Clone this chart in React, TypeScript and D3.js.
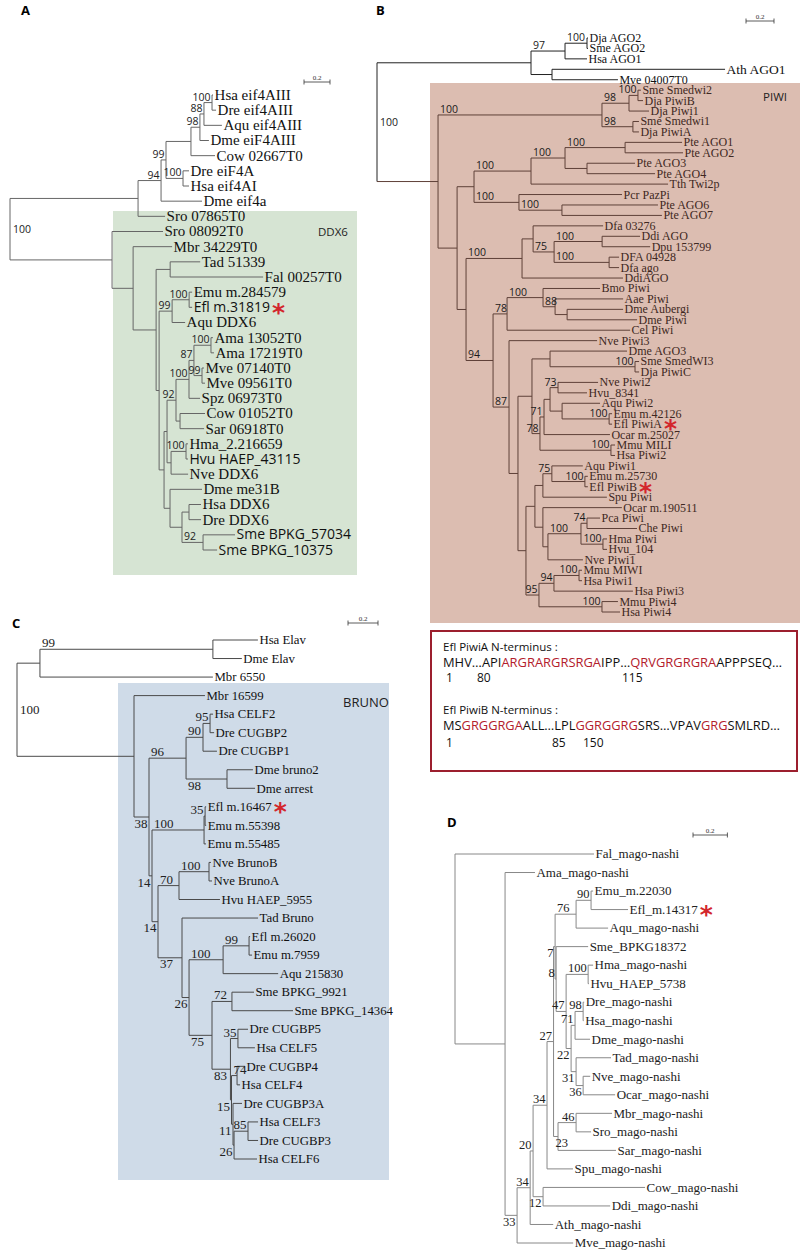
import React from 'react';
import * as d3 from 'd3';

// ====================== DATA ======================
// Trees in Newick: branch lengths in substitutions/site, internal labels = bootstrap support.
// Label flags: '<' label sits at the start of the branch, '_' label sits below the branch.

// ---- Panel A : DDX6 ----
const A_eif4AIII = '(((Hsa eif4AIII:0.008,Dre eif4AIII:0.031)100:0.062,Aqu eif4AIII:0.138)88:0.031,Dme eiF4AIII:0.069)98:0.069';
const A_eif4A = `((((${A_eif4AIII},Cow 02667T0:0.185):0.192,(Dre eiF4A:0.046,Hsa eif4AI:0.046)100:0.131)99:0.038,Dme eif4a:0.315)94:0.177,Sro 07865T0:0.208):0.985`;
const A_ama = '((((Ama 13052T0:0.015,Ama 17219T0:0.023)100:0.131,(Mve 07140T0:0.015,Mve 09561T0:0.023)99:0.062)87:0.038,Spz 06973T0:0.085)100:0.100,(Cow 01052T0:0.192,Sar 06918T0:0.185):0.031)92:0.069';
const A_cnid = '((Hma_2.216659:0.015,Hvu HAEP_43115:0.015)100:0.115,Nve DDX6:0.131):0.031';
const A_bilat = '(Dme me31B:0.246,((Hsa DDX6:0.092,Dre DDX6:0.092):0.054,(Sme BPKG_57034:0.246,Sme BPKG_10375:0.108)<92:0.162):0.092):0.046';
const A_ddx6 = `(Sro 08092T0:0.392,(Mbr 34229T0:0.300,((Tad 51339:0.231,Fal 00257T0:0.715):0.108,(((Emu m.284579:0.023,Efl m.31819:0.023)100:0.131,Aqu DDX6:0.100)99:0.100,((${A_ama},${A_cnid}):0.023,${A_bilat}):0.038):0.023):0.177):0.162):0.785`;
const treeA = `(${A_eif4A},${A_ddx6})100;`;

// ---- Panel B : PIWI ----
const B_ago = '(((Dja AGO2:0.007,Sme AGO2:0.007)<100:0.157,Hsa AGO1:0.157)<97:0.243,(Ath AGO1:1.236,Mve 04007T0:0.471):0.150):1.100';
const B_plan = '(((Sme Smedwi2:0.021,Dja PiwiB:0.036)100:0.064,Dja Piwi1:0.143)<98:0.193,(Sme Smedwi1:0.043,Dja PiwiA:0.043)<98:0.221)<100:1.171';
const B_cil = '((((Pte AGO1:0.407,Pte AGO2:0.414)<100:0.429,(Pte AGO3:0.343,Pte AGO4:0.486):0.157)<100:0.243,Tth Twi2p:0.979)<100:0.407,(Pcr PazPi:0.736,(Pte AGO6:0.686,Pte AGO7:0.714)<100:0.307)<100:0.321):0.121';
const B_dicty = '((Dfa 03276:0.500,((Ddi AGO:0.271,Dpu 153799:0.343)<100:0.343,(DFA 04928:0.071,Dfa ago:0.071)<100:0.393)<75:0.150):0.079,DdiAGO:0.721)<100:0.400';
const B_insect = '((Bmo Piwi:0.407,(Aae Piwi:0.486,(Dme Aubergi:0.400,Dme Piwi:0.500):0.086)<88:0.086)<100:0.257,Cel Piwi:0.879)<78:0.100';
const B_piwi2 = '((Dme AGO3:0.550,(Sme SmedWI3:0.029,Dja PiwiC:0.029)100:0.607):0.129,((((Nve Piwi2:0.286,Hvu_8341:0.207)73:0.057,(Aqu Piwi2:0.271,(Emu m.42126:0.021,Efl PiwiA:0.021)100:0.336):0.086):0.043,Ocar m.25027:0.471)71:0.029,(Mmu MILI:0.029,Hsa Piwi2:0.029)100:0.507)78:0.057):0.100';
const B_piwi1 = '((((Aqu Piwi1:0.221,(Emu m.25730:0.021,Efl PiwiB:0.021)100:0.236)75:0.064,Spu Piwi:0.457):0.057,(Ocar m.190511:0.564,(((Pca Piwi:0.093,Che Piwi:0.357)74:0.043,(Hma Piwi:0.029,Hvu_104:0.029)100:0.157)<100:0.236,Nve Piwi1:0.250):0.036):0.057):0.064,(((Mmu MIWI:0.021,Hsa Piwi1:0.021)100:0.179,Hsa Piwi3:0.564)94:0.107,(Mmu Piwi4:0.114,Hsa Piwi4:0.129)100:0.450)95:0.093):0.057';
const B_p5 = `(${B_piwi2},${B_piwi1}):0.064`;
const B_p4 = `(Nve Piwi3:0.629,${B_p5})<87:0.114`;
const B_p3 = `(${B_insect},${B_p4})<94:0.193`;
const B_p2 = `(${B_dicty},${B_p3}):0.064`;
const B_p1 = `(${B_cil},${B_p2}):0.136`;
const B_p0 = `(${B_plan},${B_p1}):0.436`;
const treeB = `(${B_ago},${B_p0})100;`;

// ---- Panel C : BRUNO ----
const C_elav = '((Hsa Elav:0.300,Dme Elav:0.193)<99:1.153,Mbr 6550:1.153):0.153';
const C_celf12 = '(((Hsa CELF2:0.020,Dre CUGBP2:0.027)95:0.047,Dre CUGBP1:0.093)<90:0.113,(Dme bruno2:0.173,Dme arrest:0.187)<_98:0.273)<96:0.247';
const C_emu = '((Efl m.16467:0.007,Emu m.55398:0.007)35:0.007,Emu m.55485:0.013)<100:0.347';
const C_nve = '((Nve BrunoB:0.013,Nve BrunoA:0.020)<100:0.200,Hvu HAEP_5955:0.273)<70:0.140';
const C_aqu = '((Efl m.26020:0.007,Emu m.7959:0.020)<99:0.173,Aqu 215830:0.367)<100:0.227';
const C_sme = '(Sme BPKG_9921:0.147,Sme BPKG_14364:0.407)<72:0.133';
const C_celf36 = '((Dre CUGBP5:0.067,Hsa CELF5:0.113)35:0.050,((Dre CUGBP4:0.053,Hsa CELF4:0.020)<74:0.037,(Dre CUGBP3A:0.060,((Hsa CELF3:0.067,Dre CUGBP3:0.067)85:0.093,Hsa CELF6:0.153)_26:0.007)_11:0.010)_15:0.007)<_83:0.123';
const C_b6 = `(${C_sme},${C_celf36})<_75:0.153`;
const C_b5 = `(${C_aqu},${C_b6})_26:0.047`;
const C_b4 = `(Tad Bruno:0.507,${C_b5})<_37:0.160`;
const C_b3 = `(${C_nve},${C_b4})_14:0.040`;
const C_b2 = `(${C_emu},${C_b3})_14:0.020`;
const C_b1 = `(${C_celf12},${C_b2})_38:0.100`;
const C_b0 = `(Mbr 16599:0.473,${C_b1}):0.780`;
const treeC = `(${C_elav},${C_b0})100;`;

// ---- Panel D : mago-nashi ----
const D_g76 = '((Emu_m.22030:0.012,Efl_m.14317:0.215)90:0.087,Aqu_mago-nashi:0.186)<76:0.122';
const D_n22 = '(((Dre_mago-nashi:0.006,Hsa_mago-nashi:0.003)98:0.047,Dme_mago-nashi:0.087)71:0.023,(Tad_mago-nashi:0.203,(Nve_mago-nashi:0.041,Ocar_mago-nashi:0.186)_36:0.041)_31:0.029)_22:0.029';
const D_n47 = `((Hma_mago-nashi:0.029,Hvu_HAEP_5738:0.005)100:0.128,${D_n22})47:0.058`;
const D_n78 = `(Sme_BPKG18372:0.186,${D_n47})8:0.006`;
const D_n23 = '((Mbr_mago-nashi:0.209,Sro_mago-nashi:0.087)46:0.105,Sar_mago-nashi:0.337)<_23:0.026';
const D_r6 = `((${D_g76},${D_n78})_7:0.009,${D_n23})27:0.038`;
const D_r5 = `(${D_r6},Spu_mago-nashi:0.151)34:0.081`;
const D_r4 = `(${D_r5},(Cow_mago-nashi:0.593,Ddi_mago-nashi:0.390)_12:0.058)20:0.017`;
const D_r3 = `(${D_r4},Ath_mago-nashi:0.134)34:0.076`;
const D_r2 = `(${D_r3},Mve_mago-nashi:0.326)_33:0.070`;
const treeD = `(Fal_mago-nashi:0.808,(Ama_mago-nashi:0.174,${D_r2}):0.291);`;

// Genes of Ephydatia fluviatilis highlighted with a red asterisk
const starred = ['Efl m.31819', 'Efl PiwiA', 'Efl PiwiB', 'Efl m.16467', 'Efl_m.14317'];
const sansLeavesA = ['Efl m.31819', 'Hvu HAEP_43115', 'Sme BPKG_57034', 'Sme BPKG_10375'];

// Sequence annotation box (panel B)
const piwiASeq: [string, boolean][] = [['MHV…API', false], ['ARGRARGRSRGA', true], ['IPP…', false], ['QRVGRGRGRA', true], ['APPPSEQ…', false]];
const piwiBSeq: [string, boolean][] = [['MS', false], ['GRGGRGA', true], ['ALL…LPL', false], ['GGRGGRG', true], ['SRS…VPAV', false], ['GRG', true], ['SMLRD…', false]];
const piwiANums = ['1', '80', '115'];
const piwiBNums = ['1', '85', '150'];

// ====================== PARSER / LAYOUT ======================
interface Lab { support: string; atStart: boolean; below: boolean }
interface TNode { name: string; length: number; children?: TNode[]; label?: Lab }

function parseNewick(src: string): TNode {
  const s = src.trim();
  let i = 0;
  const readUntil = (stop: string) => { let t = ''; while (i < s.length && !stop.includes(s[i])) t += s[i++]; return t; };
  const node = (): TNode => {
    const n: TNode = { name: '', length: 0 };
    if (s[i] === '(') {
      n.children = [];
      i++;
      n.children.push(node());
      while (s[i] === ',') { i++; n.children.push(node()); }
      i++;
    }
    const lab = readUntil(':,);').trim();
    if (s[i] === ':') { i++; n.length = parseFloat(readUntil(',);')); }
    if (n.children) {
      if (lab) {
        let k = 0, atStart = false, below = false;
        while (lab[k] === '<' || lab[k] === '_') { if (lab[k] === '<') atStart = true; else below = true; k++; }
        n.label = { support: lab.slice(k), atStart, below };
      }
    } else n.name = lab;
    return n;
  };
  return node();
}

const SERIF = "'Liberation Serif', 'Times New Roman', serif";
const SANS = "'Open Sans', 'Liberation Sans', sans-serif";
const RED = '#d3262c';

interface Style {
  rootX: number; ppu: number; yFirst: number; yLast: number;
  leafSize: number; leafFont: string; labelSize: number; labelFont: string;
  line: string; text: string; labelColor: string;
  tint?: { x: number; y: number; line: string; text: string };
  sansLeaves?: string[]; sizeOverride?: Record<string, number>;
  bar: { x: number; y: number };
}

function TreeView({ newick, st }: { newick: string; st: Style }) {
  const root = d3.hierarchy<TNode>(parseNewick(newick), d => d.children);
  const dist = new Map<any, number>();
  root.eachBefore(n => dist.set(n, n.parent ? (dist.get(n.parent) as number) + n.data.length : 0));
  const leaves = root.leaves();
  const x = d3.scaleLinear().domain([0, 1]).range([st.rootX, st.rootX + st.ppu]);
  const y = d3.scaleLinear().domain([0, leaves.length - 1]).range([st.yFirst, st.yLast]);
  const ypos = new Map<any, number>();
  leaves.forEach((l, i) => ypos.set(l, y(i)));
  root.eachAfter(n => {
    if (n.children) ypos.set(n, ((ypos.get(n.children[0]) as number) + (ypos.get(n.children[n.children.length - 1]) as number)) / 2);
  });
  const X = (n: any) => x(dist.get(n) as number);
  const Y = (n: any) => ypos.get(n) as number;
  const inside = (px: number, py: number) => !!st.tint && px >= st.tint.x && py >= st.tint.y;

  const lines: React.ReactNode[] = [];
  const texts: React.ReactNode[] = [];
  root.descendants().forEach((n, i) => {
    const nx = X(n), ny = Y(n);
    const col = inside(nx, ny) ? st.tint!.line : st.line;
    if (n.parent) lines.push(<line key={`h${i}`} x1={X(n.parent)} y1={ny} x2={nx} y2={ny} stroke={col} strokeWidth={1} />);
    if (n.children) {
      lines.push(<line key={`v${i}`} x1={nx} x2={nx} y1={Y(n.children[0])} y2={Y(n.children[n.children.length - 1])} stroke={col} strokeWidth={1} />);
      const lab = n.data.label;
      if (lab) {
        if (!n.parent) {
          texts.push(<text key={`r${i}`} x={nx + 3} y={ny + 4} fontFamily={st.labelFont} fontSize={st.labelSize} fill={st.labelColor}>{lab.support}</text>);
        } else {
          const tx = lab.atStart ? X(n.parent) + 2 : nx - 1.5;
          const ty = lab.below ? ny + st.labelSize * 0.82 : ny - 2;
          texts.push(<text key={`s${i}`} x={tx} y={ty} textAnchor={lab.atStart ? 'start' : 'end'} fontFamily={st.labelFont} fontSize={st.labelSize} fill={st.labelColor}>{lab.support}</text>);
        }
      }
    } else {
      const name = n.data.name;
      const sans = st.sansLeaves?.includes(name);
      const fs = st.sizeOverride?.[name] ?? (sans ? st.leafSize - 1 : st.leafSize);
      const fill = inside(nx, ny) ? st.tint!.text : st.text;
      texts.push(
        <text key={`l${i}`} x={nx + 1.5} y={ny + fs * 0.33} fontFamily={sans ? SANS : st.leafFont} fontSize={fs} fill={fill}>
          {name}
          {starred.includes(name) && (
            <tspan dx={2} dy={9} fontFamily="'DejaVu Sans', sans-serif" fontWeight="bold" fontSize={25} fill={RED}>*</tspan>
          )}
        </text>
      );
    }
  });

  const barLen = x(0.2) - x(0);
  const bar = (
    <g stroke="#333" strokeWidth={0.8}>
      <line x1={st.bar.x} x2={st.bar.x + barLen} y1={st.bar.y} y2={st.bar.y} />
      <line x1={st.bar.x} x2={st.bar.x} y1={st.bar.y - 2.5} y2={st.bar.y + 2.5} />
      <line x1={st.bar.x + barLen} x2={st.bar.x + barLen} y1={st.bar.y - 2.5} y2={st.bar.y + 2.5} />
      <text x={st.bar.x + barLen / 2} y={st.bar.y - 2.5} textAnchor="middle" fontFamily={SERIF} fontSize={7} fill="#333" stroke="none">0.2</text>
    </g>
  );
  return <g>{lines}{texts}{bar}</g>;
}

function SeqLine({ x, y, parts, width }: { x: number; y: number; parts: [string, boolean][]; width: number }) {
  return (
    <text x={x} y={y} fontFamily={SANS} fontSize={12} textLength={width} lengthAdjust="spacingAndGlyphs">
      {parts.map(([t, red], i) => <tspan key={i} fill={red ? '#b3202c' : '#111'}>{t}</tspan>)}
    </text>
  );
}

export default function App() {
  const styleA: Style = {
    rootX: 10, ppu: 130, yFirst: 95, yLast: 550, leafSize: 15, leafFont: SERIF, labelSize: 10.5, labelFont: SANS,
    line: '#666', text: '#111', labelColor: '#222', sansLeaves: sansLeavesA, bar: { x: 304, y: 82 },
  };
  const styleB: Style = {
    rootX: 377, ppu: 140, yFirst: 38, yLast: 612, leafSize: 12, leafFont: SERIF, labelSize: 10.5, labelFont: SANS,
    line: '#222', text: '#111', labelColor: '#1a1a1a', sizeOverride: { 'Ath AGO1': 13.5 },
    tint: { x: 430, y: 83, line: '#5e4038', text: '#3e2822' }, bar: { x: 746, y: 21 },
  };
  const styleC: Style = {
    rootX: 17, ppu: 150, yFirst: 640, yLast: 1159, leafSize: 12.8, leafFont: SERIF, labelSize: 13, labelFont: SERIF,
    line: '#4a4a4a', text: '#111', labelColor: '#222', bar: { x: 348, y: 623 },
  };
  const styleD: Style = {
    rootX: 455, ppu: 172, yFirst: 854, yLast: 1243, leafSize: 13, leafFont: SERIF, labelSize: 12.5, labelFont: SERIF,
    line: '#888', text: '#222', labelColor: '#222', bar: { x: 693, y: 835 },
  };
  const panelLetter = (t: string, x: number, y: number) => (
    <text x={x} y={y} fontFamily={SANS} fontWeight="bold" fontSize={13}>{t}</text>
  );
  return (
    <svg width={800} height={1250} style={{ position: 'absolute', left: 0, top: 0, background: '#fff' }}>
      <rect x={0} y={0} width={800} height={1250} fill="#fff" />
      {/* backgrounds */}
      <rect x={113} y={211} width={244} height={364} fill="#d6e4d3" />
      <rect x={430} y={83} width={370} height={540} fill="#dcbdb1" />
      <rect x={118} y={683} width={271} height={497} fill="#cfdbe8" />

      {panelLetter('A', 21, 15)}
      {panelLetter('B', 376, 15)}
      {panelLetter('C', 12, 628)}
      {panelLetter('D', 447, 827)}

      <text x={318} y={236} fontFamily={SANS} fontSize={11.5} fill="#222">DDX6</text>
      <text x={763} y={101} fontFamily={SANS} fontSize={11.5} fill="#222">PIWI</text>
      <text x={343} y={707} fontFamily={SANS} fontSize={13} fill="#222">BRUNO</text>

      <TreeView newick={treeA} st={styleA} />
      <TreeView newick={treeB} st={styleB} />
      <TreeView newick={treeC} st={styleC} />
      <TreeView newick={treeD} st={styleD} />

      {/* sequence box */}
      <rect x={431} y={631} width={366} height={140} fill="#fff" stroke="#9c1f2e" strokeWidth={2} />
      <text x={443} y={651} fontFamily={SANS} fontSize={11.5} fill="#111">Efl PiwiA N-terminus :</text>
      <SeqLine x={443} y={666.5} parts={piwiASeq} width={339} />
      <text y={682} fontFamily={SANS} fontSize={12} fill="#111">
        <tspan x={446}>{piwiANums[0]}</tspan><tspan x={477}>{piwiANums[1]}</tspan><tspan x={622}>{piwiANums[2]}</tspan>
      </text>
      <text x={443} y={714} fontFamily={SANS} fontSize={11.5} fill="#111">Efl PiwiB N-terminus :</text>
      <SeqLine x={443} y={729.5} parts={piwiBSeq} width={337} />
      <text y={747} fontFamily={SANS} fontSize={12} fill="#111">
        <tspan x={446}>{piwiBNums[0]}</tspan><tspan x={552}>{piwiBNums[1]}</tspan><tspan x={583}>{piwiBNums[2]}</tspan>
      </text>
    </svg>
  );
}
